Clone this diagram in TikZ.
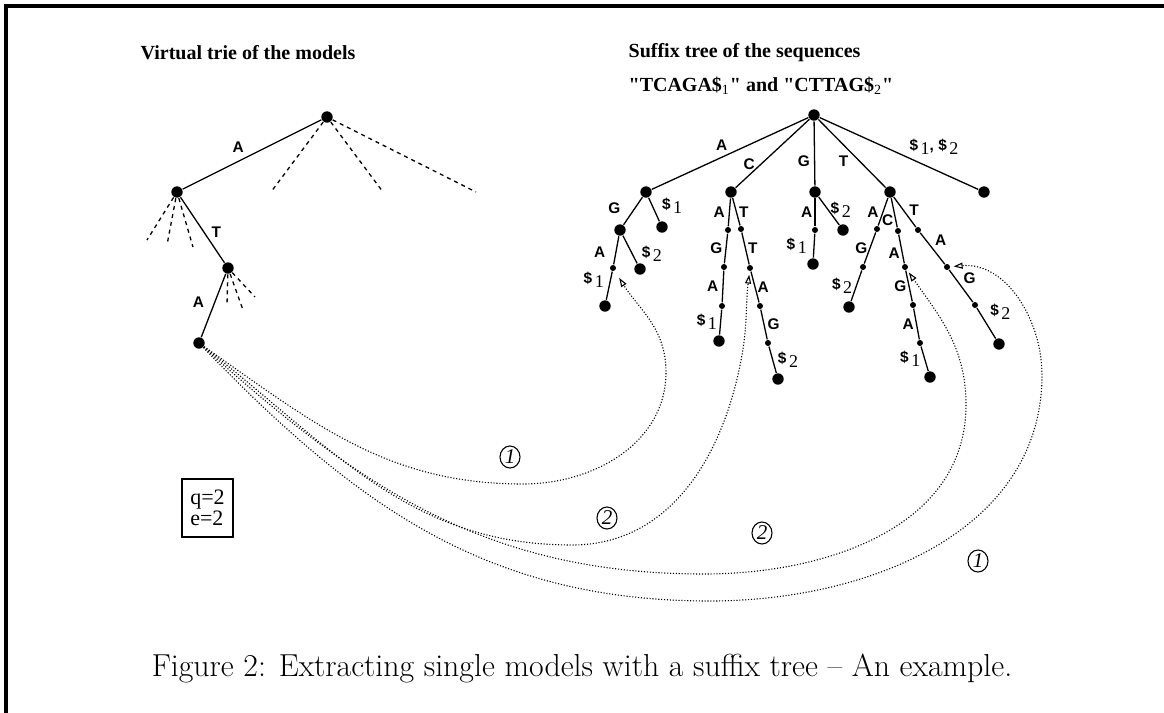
\documentclass[tikz,border=0pt]{standalone}
\usepackage{fontspec}
\usepackage{tikz}
\usetikzlibrary{arrows.meta,positioning,shapes.geometric}

\newfontfamily\tms{Liberation Serif}
\newfontfamily\hlv{Liberation Sans}
% end of a suffix: bold dollar with a plain index
\newcommand{\dol}[1]{\$\,\raisebox{-2pt}{\tms\mdseries\fontsize{9}{9}\selectfont #1}}
% a straight double quote, not mapped to a curly one
\newcommand{\sq}{{\XeTeXglyph\XeTeXcharglyph"22\relax}}

\begin{document}
\begin{tikzpicture}[
    x = 0.5pt, y = 0.5pt, % one unit is one pixel of the scan
    line width = 0.65pt, % line style
    > = {Triangle[open, length=4.5pt, width=3pt]} % arrow head style
    ]

    \tikzset{
    big/.style = {circle, fill = black, inner sep = 0pt, minimum size = 5.7pt},
    small/.style = {circle, fill = black, inner sep = 0pt, minimum size = 3pt},
    lbl/.style = {font = \hlv\bfseries\fontsize{7.7}{9}\selectfont, inner sep = 1pt},
    title/.style = {font = \tms\bfseries\fontsize{10}{12}\selectfont, inner sep = 0pt},
    hint/.style = {dash pattern = on 2pt off 2pt},
    link/.style = {->, line width = 0.55pt, dash pattern = on 0.55pt off 0.9pt, shorten > = 1.5pt},
    num/.style = {draw, ellipse, line width = 0.55pt, inner sep = 0pt,
        minimum width = 10pt, minimum height = 11pt,
        font = \tms\itshape\fontsize{10.5}{10}\selectfont}
    }

    \useasboundingbox (0,0) rectangle (1164,-713);
    % frame of the page
    \draw[line width = 1.6pt] (6,-713) -- (6,-6) -- (1164,-6);

    % virtual trie
    \node[title] (vtitle) at (248,-53) {Virtual trie of the models};
    \node[big] (vr) at (327,-117) {};
    \node[big] (vA) at (177,-192) {};
    \node[big] (vAT) at (228,-268) {};
    \node[big] (vATA) at (199,-343) {};

    \path (vr) edge node[lbl, pos=0.6, above=3pt]{A} (vA);
    \path (vA) edge node[lbl, pos=0.54, right=2.4pt]{T} (vAT);
    \path (vAT) edge node[lbl, pos=0.45, left=4pt]{A} (vATA);

    \foreach \x/\y [count=\i] in {271/192, 383/192, 476/192} {
        \coordinate (vr-\i) at (\x,-\y);
        \draw[hint] (vr) -- (vr-\i);
    }
    \foreach \x/\y [count=\i] in {147/240, 167/245, 193/247} {
        \coordinate (vA-\i) at (\x,-\y);
        \draw[hint] (vA) -- (vA-\i);
    }
    \foreach \x/\y [count=\i] in {227/305, 243/310, 255/297} {
        \coordinate (vAT-\i) at (\x,-\y);
        \draw[hint] (vAT) -- (vAT-\i);
    }

    % suffix tree
    \node[title, anchor=west] (stitle) at (628,-53) {Suffix tree of the sequences};
    \node[title, anchor=west] (sseq) at (628,-86)
        {\sq TCAGA\$\textsubscript{\mdseries 1}\sq{} and \sq CTTAG\$\textsubscript{\mdseries 2}\sq};

    \node[big] (sr) at (814,-115) {};
    \node[big] (sA) at (646,-192) {};
    \node[big] (sC) at (731,-192) {};
    \node[big] (sG) at (815,-192) {};
    \node[big] (sT) at (890,-192) {};
    \node[big] (sD) at (984,-192) {};
    \path (sr) edge node[lbl, above left]{A} (sA)
               edge node[lbl, pos=0.65, left=2pt]{C} (sC)
               edge node[lbl, pos=0.62, left=1pt]{G} (sG)
               edge node[lbl, pos=0.62, left=4.5pt]{T} (sT)
               edge node[lbl, pos=0.55, above right]{\dol{1}, \dol{2}} (sD);

    % below A
    \node[big] (sAG) at (620,-230) {};
    \node[big] (sA1) at (662,-227) {};
    \node[small] (sAGA) at (613,-268) {};
    \node[big] (sAGA1) at (605,-306) {};
    \node[big] (sAG2) at (640,-269) {};
    \path (sA) edge node[lbl, pos=0.4, left=6pt]{G} (sAG)
               edge node[lbl, pos=0.35, right=3.5pt]{\dol{1}} (sA1)
          (sAG) edge node[lbl, pos=0.58, left=4pt]{A} (sAGA)
                edge node[lbl, pos=0.65, right=3.5pt]{\dol{2}} (sAG2)
          (sAGA) edge node[lbl, pos=0.3, left=2pt]{\dol{1}} (sAGA1);

    % below C
    \node[small] (sCA) at (728,-230) {};
    \node[small] (sCAG) at (724,-267) {};
    \node[small] (sCAGA) at (722,-306) {};
    \node[big] (sCAGA1) at (719,-341) {};
    \node[small] (sCT) at (741,-229) {};
    \node[small] (sCTT) at (750,-268) {};
    \node[small] (sCTTA) at (760,-306) {};
    \node[small] (sCTTAG) at (768,-343) {};
    \node[big] (sCTTAG2) at (778,-379) {};
    \path (sC) edge node[lbl, left=1pt]{A} (sCA)
          (sCA) edge node[lbl, left=0.5pt]{G} (sCAG)
          (sCAG) edge node[lbl, left=1pt]{A} (sCAGA)
          (sCAGA) edge node[lbl, left=0.5pt]{\dol{1}} (sCAGA1);
    \path (sC) edge node[lbl, right]{T} (sCT)
          (sCT) edge node[lbl, right]{T} (sCTT)
          (sCTT) edge node[lbl, right]{A} (sCTTA)
          (sCTTA) edge node[lbl, right=0.5pt]{G} (sCTTAG)
          (sCTTAG) edge node[lbl, right=1.3pt]{\dol{2}} (sCTTAG2);

    % below G
    \node[small] (sGA) at (815,-230) {};
    \node[big] (sGA1) at (813,-264) {};
    \node[big] (sG2) at (843,-230) {};
    \path (sG) edge node[lbl, left]{A} (sGA)
               edge node[lbl, pos=0.45, right]{\dol{2}} (sG2)
          (sGA) edge node[lbl, left=2.3pt]{\dol{1}} (sGA1);

    % below T
    \node[small] (sTA) at (877,-229) {};
    \node[small] (sTAG) at (863,-267) {};
    \node[big] (sTAG2) at (849,-307) {};
    \node[small] (sTC) at (898,-231) {};
    \node[small] (sTCA) at (905,-267) {};
    \node[small] (sTCAG) at (913,-305) {};
    \node[small] (sTCAGA) at (920,-343) {};
    \node[big] (sTCAGA1) at (930,-377) {};
    \node[small] (sTT) at (918,-230) {};
    \node[small] (sTTA) at (947,-267) {};
    \node[small] (sTTAG) at (975,-305) {};
    \node[big] (sTTAG2) at (999,-344) {};
    \path (sT) edge node[lbl, left=1pt]{A} (sTA)
          (sTA) edge node[lbl, left]{G} (sTAG)
          (sTAG) edge node[lbl, left=0.8pt]{\dol{2}} (sTAG2);
    \path (sT) edge node[lbl, pos=0.75, left]{C} (sTC)
          (sTC) edge node[lbl, pos=0.64, left]{A} (sTCA)
          (sTCA) edge node[lbl, left]{G} (sTCAG)
          (sTCAG) edge node[lbl, left]{A} (sTCAGA)
          (sTCAGA) edge node[lbl, left=0.8pt]{\dol{1}} (sTCAGA1);
    \path (sT) edge node[lbl, pos=0.45, right=1.5pt]{T} (sTT)
          (sTT) edge node[lbl, above right]{A} (sTTA)
          (sTTA) edge node[lbl, above right]{G} (sTTAG)
          (sTTAG) edge node[lbl, above right=1pt]{\dol{2}} (sTTAG2);

    % where the model ATA is found
    \draw[link, shorten > = 4pt] (vATA) to[out=-35, in=180] (523,-484)
        to[out=0, in=-90] (666,-372) to[out=90, in=-58] (sAGA);
    \draw[link] (vATA) to[out=-38, in=180] (572,-545)
        to[out=0, in=-100] (742,-355) to[out=80, in=-97] (sCTT);
    \draw[link] (vATA) to[out=-42, in=180] (704,-574)
        to[out=0, in=-90] (966,-405) to[out=90, in=-55] (sTCA);
    \draw[link] (vATA) to[out=-46, in=180] (710,-601)
        to[out=0, in=-90] (1042,-375) to[out=90, in=5] (sTTA);

    \node[num] (c1) at (510,-457) {1};
    \node[num] (c2) at (607,-518) {2};
    \node[num] (c3) at (762,-533) {2};
    \node[num] (c4) at (978,-561) {1};

    \node[draw, line width = 0.6pt, align = left, inner sep = 2pt,
        minimum width = 25.5pt, minimum height = 29pt,
        font = \tms\fontsize{11}{10.5}\selectfont] (qe) at (207.5,-508) {q=2\\e=2};

    \node[font = \fontsize{15.9}{19}\selectfont] (caption) at (582,-668)
        {Figure 2: Extracting single models with a suffix tree -- An example.};
\end{tikzpicture}
\end{document}
